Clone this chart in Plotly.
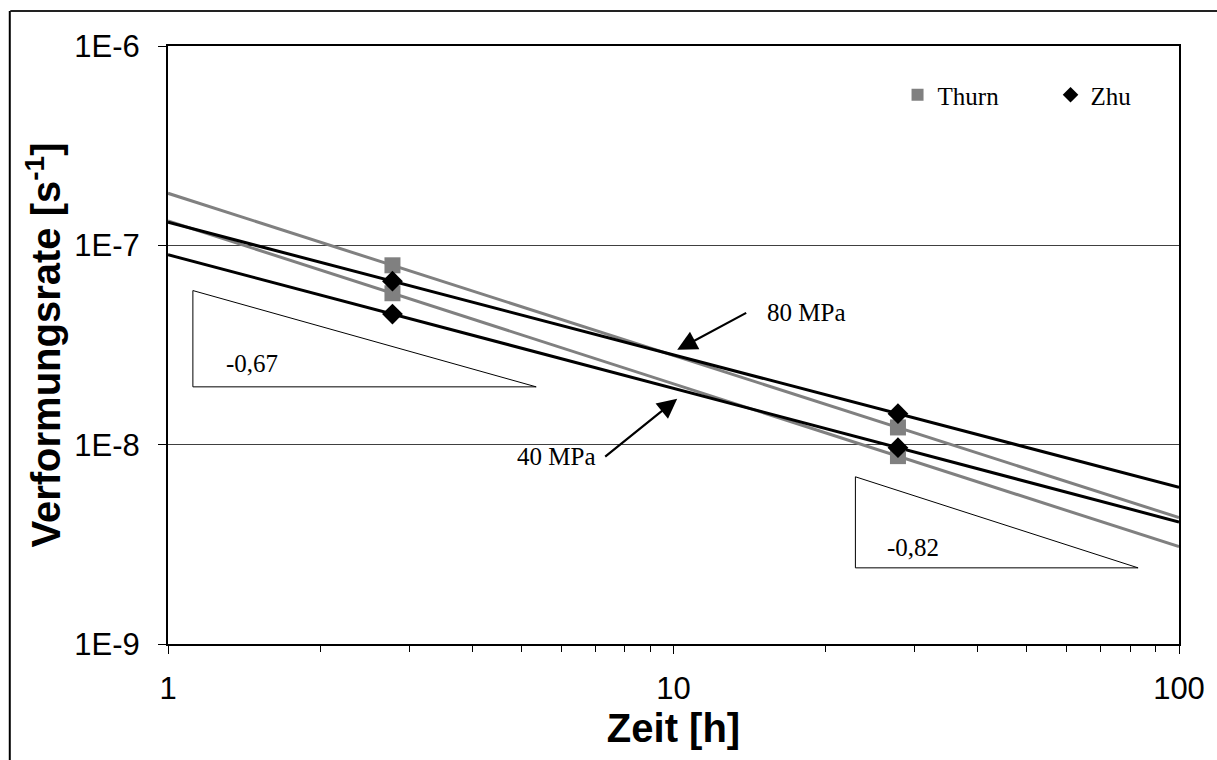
import numpy as np
import plotly.graph_objects as go

# ---- data ----
zeit = [2.78, 27.8]                      # h
thurn_80 = [7.94e-8, 1.22e-8]
thurn_40 = [5.75e-8, 8.76e-9]
zhu_80 = [6.61e-8, 1.43e-8]
zhu_40 = [4.52e-8, 9.66e-9]
fit_x = [1, 100]

tri_left_x = [1.12, 1.12, 5.35, 1.12]
tri_left_y = [5.93e-8, 1.95e-8, 1.95e-8, 5.93e-8]
tri_right_x = [22.9, 22.9, 83.0, 22.9]
tri_right_y = [6.9e-9, 2.41e-9, 2.41e-9, 6.9e-9]

GRAY = "#808080"
BLACK = "#000000"
SERIF = "Liberation Serif, Times New Roman, serif"
SANS = "Liberation Sans, Arial, sans-serif"


def power_fit(x, y, xe):
    k, d = np.polyfit(np.log10(x), np.log10(y), 1)
    return [10 ** (d + k * np.log10(v)) for v in xe]


fig = go.Figure()

# trend lines
for ys, col in [(thurn_80, GRAY), (thurn_40, GRAY), (zhu_80, BLACK), (zhu_40, BLACK)]:
    fig.add_trace(go.Scatter(x=fit_x, y=power_fit(zeit, ys, fit_x), mode="lines",
                             line=dict(color=col, width=3), showlegend=False, hoverinfo="skip"))

# slope triangles
for tx, ty in [(tri_left_x, tri_left_y), (tri_right_x, tri_right_y)]:
    fig.add_trace(go.Scatter(x=tx, y=ty, mode="lines", line=dict(color=BLACK, width=1),
                             showlegend=False, hoverinfo="skip"))

# markers
fig.add_trace(go.Scatter(x=zeit, y=thurn_80, mode="markers", name="Thurn", legendgroup="t",
                         marker=dict(symbol="square", size=16, color=GRAY)))
fig.add_trace(go.Scatter(x=zeit, y=thurn_40, mode="markers", name="Thurn", legendgroup="t",
                         showlegend=False, marker=dict(symbol="square", size=16, color=GRAY)))
fig.add_trace(go.Scatter(x=zeit, y=zhu_80, mode="markers", name="Zhu", legendgroup="z",
                         marker=dict(symbol="diamond", size=16, color=BLACK)))
fig.add_trace(go.Scatter(x=zeit, y=zhu_40, mode="markers", name="Zhu", legendgroup="z",
                         showlegend=False, marker=dict(symbol="diamond", size=16, color=BLACK)))

lab_font = dict(family=SERIF, size=25, color=BLACK)
annotations = [
    dict(x=np.log10(1.29), y=np.log10(2.55e-8), text="-0,67", showarrow=False,
         xanchor="left", font=lab_font),
    dict(x=np.log10(26.2), y=np.log10(3.05e-9), text="-0,82", showarrow=False,
         xanchor="left", font=lab_font),
    dict(x=np.log10(10.17), y=np.log10(2.99e-8), text="80 MPa", showarrow=True, ax=69, ay=-37,
         xanchor="left", yanchor="middle", borderpad=20,
         arrowhead=2, arrowsize=1.8, arrowwidth=2.2, arrowcolor=BLACK, font=lab_font),
    dict(x=np.log10(10.17), y=np.log10(1.70e-8), text="40 MPa", showarrow=True, ax=-72, ay=58,
         xanchor="right", yanchor="middle", borderpad=9,
         arrowhead=2, arrowsize=1.8, arrowwidth=2.2, arrowcolor=BLACK, font=lab_font),
]

fig.update_layout(
    width=1217, height=760,
    margin=dict(l=168, r=36, t=46, b=116),
    paper_bgcolor="white", plot_bgcolor="white",
    annotations=annotations,
    legend=dict(orientation="h", x=0.7216, y=0.918, xanchor="left", yanchor="middle",
                bgcolor="rgba(0,0,0,0)", font=dict(family=SERIF, size=25, color=BLACK),
                entrywidth=108, entrywidthmode="pixels", itemsizing="constant"),
    shapes=[
        dict(type="line", xref="paper", yref="paper", x0=-0.156, y0=1.0585, x1=1.1, y1=1.0585,
             line=dict(color="#222222", width=2), layer="below"),
        dict(type="line", xref="paper", yref="paper", x0=-0.1565, y0=1.0585, x1=-0.1565, y1=-0.3,
             line=dict(color=BLACK, width=2), layer="below"),
    ],
)

fig.update_xaxes(type="log", range=[0, 2], showgrid=False,
                 showline=True, linecolor=BLACK, linewidth=2, mirror=True,
                 ticks="outside", ticklen=8, tickwidth=1, tickcolor=BLACK,
                 tickvals=[1, 10, 100], ticktext=["1", "10", "100"],
                 minor=dict(ticks="outside", ticklen=6, tickcolor=BLACK,
                            tickvals=[2, 3, 4, 5, 6, 7, 8, 9, 20, 30, 40, 50, 60, 70, 80, 90]),
                 tickfont=dict(family=SANS, size=31, color=BLACK), ticklabelstandoff=8,
                 title=dict(text="<b>Zeit [h]</b>", font=dict(family=SANS, size=40, color=BLACK), standoff=2))
fig.update_yaxes(type="log", range=[-9, -6], showgrid=True, gridcolor="#404040", gridwidth=1,
                 showline=True, linecolor=BLACK, linewidth=2, mirror=True,
                 ticks="outside", ticklen=8, tickwidth=1, tickcolor=BLACK,
                 tickvals=[1e-9, 1e-8, 1e-7, 1e-6], ticktext=["1E-9", "1E-8", "1E-7", "1E-6"],
                 tickfont=dict(family=SANS, size=31, color=BLACK), ticklabelstandoff=12,
                 title=dict(text="<b>Verformungsrate [s<sup>-1</sup>]</b>",
                            font=dict(family=SANS, size=40, color=BLACK), standoff=1))

fig.write_html("out.html")
